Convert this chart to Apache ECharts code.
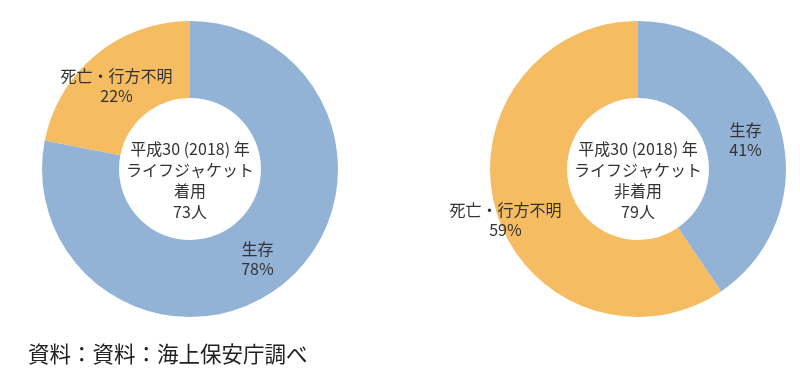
<!DOCTYPE html>
<html><head><meta charset="utf-8">
<script src="https://cdn.jsdelivr.net/npm/echarts@6/dist/echarts.min.js"></script>
<style>html,body{margin:0;padding:0;background:#fff}#c{width:800px;height:381px}</style>
</head><body><div id="c"></div>
<script>
const categories = ['生存', '死亡・行方不明'];
const wearingCounts = [57, 16];
const wearingPct = [78, 22];
const notWearingCounts = [32, 47];
const notWearingPct = [41, 59];
const centerWearing = '平成30 (2018) 年\nライフジャケット\n着用\n73人';
const centerNotWearing = '平成30 (2018) 年\nライフジャケット\n非着用\n79人';
const sourceText = '資料：資料：海上保安庁調べ';

const colors = ['#92b2d6', '#f5bc62'];
const font = '"Noto Sans CJK JP", "Noto Sans", sans-serif';
const chart = echarts.init(document.getElementById('c'), null, {renderer: 'canvas'});

function makeData(counts, pct, offsets) {
  return categories.map((c, i) => ({
    name: c, value: counts[i], pct: pct[i],
    itemStyle: {color: colors[i]},
    label: offsets && offsets[i] ? {offset: offsets[i]} : {}
  }));
}
function series(cx, data) {
  return {
    type: 'pie', center: [cx, 169], radius: [71, 148],
    startAngle: 90, clockwise: true, silent: true,
    label: {
      show: true, position: 'inside', color: '#333', fontSize: 16, fontFamily: font,
      lineHeight: 20,
      formatter: p => p.name + '\n' + p.data.pct + '%'
    },
    labelLine: {show: false},
    itemStyle: {borderWidth: 0},
    data: data
  };
}
chart.setOption({
  animation: false,
  series: [
    series(190, makeData(wearingCounts, wearingPct, [[-4, 3], [-2, 4]])),
    series(638, makeData(notWearingCounts, notWearingPct, [[0, 4], [-25, 18]]))
  ],
  graphic: [
    {type: 'text', style: {text: centerWearing, align: 'center', verticalAlign: 'middle', font: '16px ' + font, lineHeight: 21, fill: '#333'}, x: 190, y: 180},
    {type: 'text', style: {text: centerNotWearing, align: 'center', verticalAlign: 'middle', font: '16px ' + font, lineHeight: 21, fill: '#333'}, x: 638, y: 180},
    {type: 'text', style: {text: sourceText, align: 'left', verticalAlign: 'middle', font: '21.5px ' + font, fill: '#222'}, x: 28, y: 354}
  ]
});
</script></body></html>
